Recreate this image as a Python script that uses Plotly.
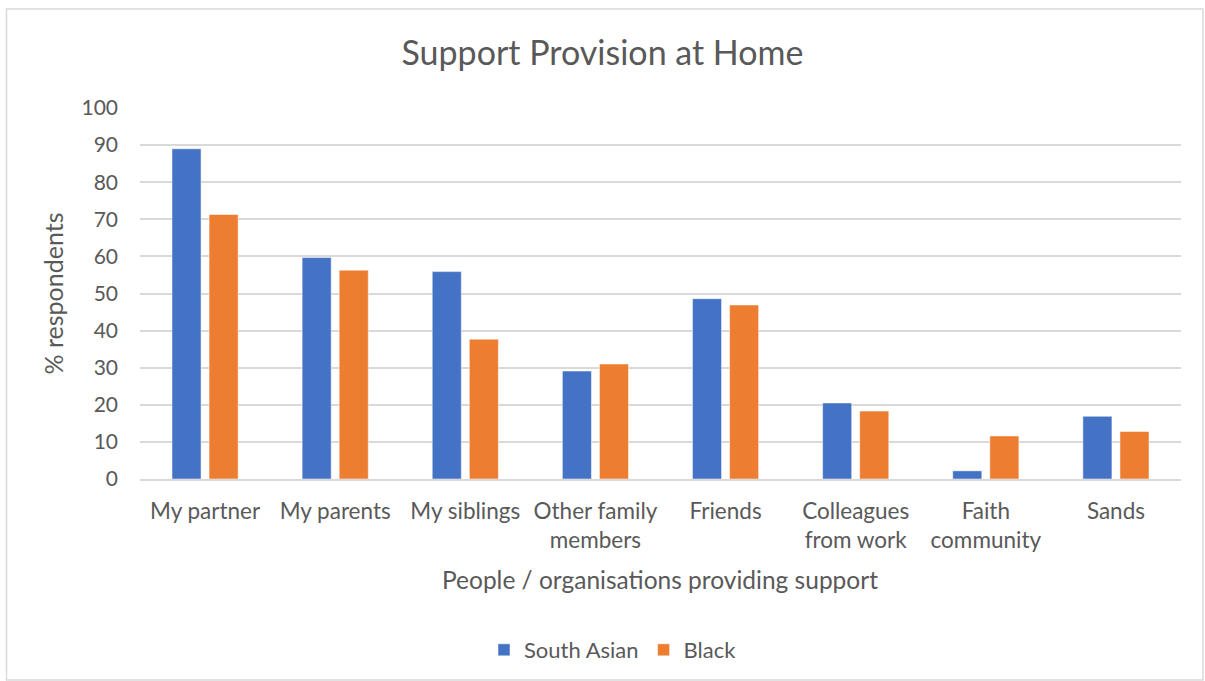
import plotly.graph_objects as go

categories = ["My partner", "My parents", "My siblings", "Other family<br>members",
              "Friends", "Colleagues<br>from work", "Faith<br>community", "Sands"]
south_asian = [89.0, 59.7, 55.9, 29.1, 48.6, 20.5, 2.2, 16.9]
black = [71.3, 56.3, 37.7, 31.0, 46.9, 18.3, 11.6, 12.8]
y_ticks = list(range(0, 101, 10))

FONT = "Lato, 'Open Sans', sans-serif"
TXT = "#595959"

fig = go.Figure()
fig.add_trace(go.Bar(name="South Asian", x=categories, y=south_asian,
                     marker=dict(color="#4472C4", line=dict(color="#ffffff", width=0.5))))
fig.add_trace(go.Bar(name="Black", x=categories, y=black,
                     marker=dict(color="#ED7D31", line=dict(color="#ffffff", width=0.5))))

L, R, T, B = 140, 24, 108, 202
W, H = 1205, 681
ph = H - T - B
pw = W - L - R

def py(pix):
    return (H - B - pix) / ph

def px(pix):
    return (pix - L) / pw

fig.update_layout(
    width=W, height=H,
    margin=dict(l=L, r=R, t=T, b=B, autoexpand=False),
    paper_bgcolor="white", plot_bgcolor="white",
    font=dict(family=FONT, color=TXT, size=22),
    title=dict(text="Support Provision at Home", x=0.5, xanchor="center",
               y=1 - 53 / H, yanchor="middle",
               font=dict(family=FONT, size=34, color=TXT)),
    barmode="group", bargap=0.43, bargroupgap=0.216,
    showlegend=True,
    legend=dict(orientation="h", x=px(613), xanchor="center", y=py(650), yanchor="middle",
                font=dict(family=FONT, size=22, color=TXT), itemwidth=30,
                traceorder="normal"),
    xaxis=dict(showgrid=False, showline=True, linecolor="#d9d9d9", linewidth=1.5,
               ticks="", tickfont=dict(family=FONT, size=22.5, color=TXT),
               ticklabelstandoff=11, tickangle=0),
    yaxis=dict(range=[0, 100], tickvals=y_ticks, showgrid=True, gridcolor="#d9d9d9",
               gridwidth=1.5, zeroline=False, showline=False, ticks="",
               tickfont=dict(family=FONT, size=21, color=TXT), ticklabelstandoff=21,
               title=dict(text="% respondents", font=dict(family=FONT, size=25, color=TXT),
                          standoff=10)),
    annotations=[dict(text="People / organisations providing support", xref="paper",
                      yref="paper", x=px(660), y=py(579), xanchor="center", yanchor="middle",
                      showarrow=False, font=dict(family=FONT, size=24.5, color=TXT))],
    shapes=[dict(type="rect", xref="paper", yref="paper", x0=px(6.5), x1=px(1203),
                 y0=py(680), y1=py(9), line=dict(color="#d9d9d9", width=1.5),
                 fillcolor="rgba(0,0,0,0)", layer="below")],
)

fig.write_html("out.html")
